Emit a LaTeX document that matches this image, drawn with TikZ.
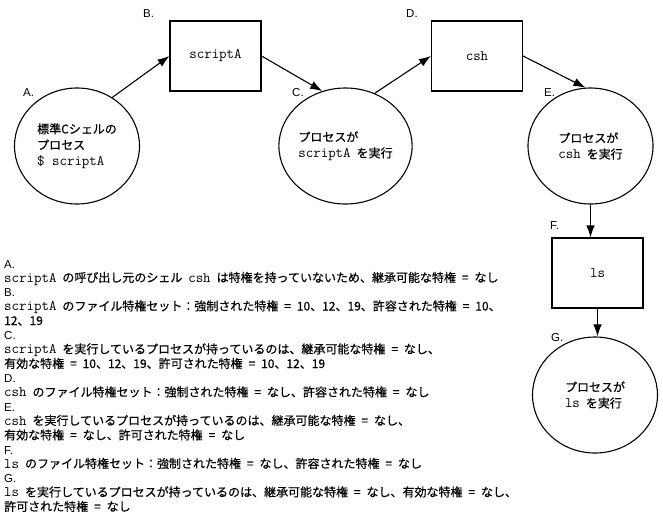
\documentclass[tikz,border=0pt]{standalone}
\usepackage{fontspec}
\setmainfont[WordSpace=2.2,FakeBold=0.5]{Noto Sans CJK JP}
\newfontfamily\labfont{Liberation Sans}
\newfontfamily\monofont{Latin Modern Mono}
\newcommand\code[1]{{\monofont\fontsize{14.5}{15}\selectfont #1}}
\usetikzlibrary{shapes.geometric,arrows.meta}
\tikzset{
  proc/.style={ellipse, draw, line width=1.1pt, minimum width=125pt, minimum height=116pt,
    inner sep=0pt, align=left, font=\fontsize{12}{16}\selectfont},
  filebox/.style={rectangle, draw, line width=1.1pt, minimum width=91pt, minimum height=70pt,
    inner sep=0pt},
  arr/.style={-{Latex[length=12pt,width=8.5pt]}, line width=1.1pt},
  lab/.style={anchor=base west, inner sep=0pt, font=\labfont\fontsize{11.5}{13}\selectfont},
  body/.style={anchor=base west, inner sep=0pt, font=\fontsize{12}{14}\selectfont},
}
\begin{document}
\begin{tikzpicture}[x=1pt,y=-1pt]
\useasboundingbox (0,0) rectangle (663,514);
% diagram nodes
\node[proc] (A) at (77,146) {標準Cシェルの\\プロセス\\\code{\$ scriptA}};
\node[filebox] (B) at (215.5,56) {\code{scriptA}};
\node[proc] (C) at (345.5,146) {プロセスが\\\code{scriptA} を実行};
\node[filebox] (D) at (477,56) {\code{csh}};
\node[proc] (E) at (590.5,146) {プロセスが\\\code{csh} を実行};
\node[filebox] (F) at (597.5,273) {\code{ls}};
\node[proc] (G) at (595,395) {プロセスが\\\code{ls} を実行};
% labels
\node[lab] (lA) at (23,96) {A.};
\node[lab] (lB) at (143,17) {B.};
\node[lab] (lC) at (292,96) {C.};
\node[lab] (lD) at (406,17) {D.};
\node[lab] (lE) at (544,96) {E.};
\node[lab] (lF) at (550,229) {F.};
\node[lab] (lG) at (551,341) {G.};
% connectors
\draw[arr] (A.54) -- (B.west);
\draw[arr] (B.east) -- (C.113);
\draw[arr] (C.61) -- (D.west);
\draw[arr] (D.east) -- (E.95);
\draw[arr] (E.south) -- (E.south |- F.north);
\draw[arr] (F.south) -- (F.south |- G.north);
% notes
\node[lab] (nA) at (4,268) {A.};
\node[body] (tA1) at (4,282) {\code{scriptA} の呼び出し元のシェル \code{csh} は特権を持っていないため、継承可能な特権 = なし};
\node[lab] (nB) at (4,296.5) {B.};
\node[body] (tB1) at (4,310.5) {\code{scriptA} のファイル特権セット：強制された特権 = 10、12、19、許容された特権 = 10、};
\node[body] (tB2) at (4,325) {12、19};
\node[lab] (nC) at (4,339.5) {C.};
\node[body] (tC1) at (4,353.5) {\code{scriptA} を実行しているプロセスが持っているのは、継承可能な特権 = なし、};
\node[body] (tC2) at (4,368) {有効な特権 = 10、12、19、許可された特権 = 10、12、19};
\node[lab] (nD) at (4,382.5) {D.};
\node[body] (tD1) at (4,396.5) {\code{csh} のファイル特権セット：強制された特権 = なし、許容された特権 = なし};
\node[lab] (nE) at (4,411) {E.};
\node[body] (tE1) at (4,425) {\code{csh} を実行しているプロセスが持っているのは、継承可能な特権 = なし、};
\node[body] (tE2) at (4,439.5) {有効な特権 = なし、許可された特権 = なし};
\node[lab] (nF) at (4,454) {F.};
\node[body] (tF1) at (4,468) {\code{ls} のファイル特権セット：強制された特権 = なし、許容された特権 = なし};
\node[lab] (nG) at (4,482.5) {G.};
\node[body] (tG1) at (4,496.5) {\code{ls} を実行しているプロセスが持っているのは、継承可能な特権 = なし、有効な特権 = なし、};
\node[body] (tG2) at (4,511) {許可された特権 = なし};
\end{tikzpicture}
\end{document}
